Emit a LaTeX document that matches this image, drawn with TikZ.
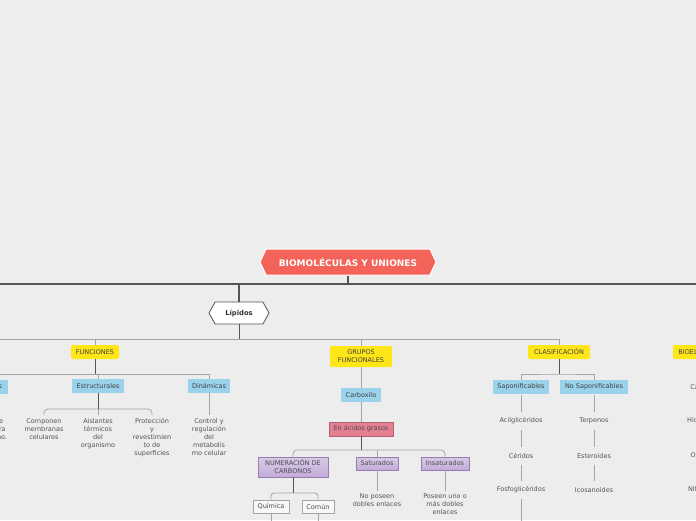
\documentclass[tikz,border=0pt]{standalone}
\usepackage{fontspec}
\setmainfont{DejaVu Sans}
\usetikzlibrary{positioning, shapes.symbols, calc}
\definecolor{bggray}{RGB}{237,237,237}
\definecolor{titred}{RGB}{244,99,90}
\definecolor{catyel}{RGB}{255,230,25}
\definecolor{subblue}{RGB}{155,210,235}
\definecolor{acidred}{RGB}{228,128,145}
\definecolor{acidedge}{RGB}{180,95,110}
\definecolor{numpurp}{RGB}{196,172,218}
\definecolor{numedge}{RGB}{150,125,175}
\definecolor{linegray}{RGB}{85,85,85}
\definecolor{txtgray}{RGB}{85,85,85}
\definecolor{linklight}{RGB}{165,165,165}

\tikzset{
  titlebox/.style={shape=signal, signal to=east and west, signal pointer angle=130,
    fill=titred, draw=white, line width=1pt, text=white, inner sep=0pt,
    font=\fontsize{9}{11}\selectfont\bfseries, minimum width=176pt, minimum height=26pt},
  lipbox/.style={shape=signal, signal to=east and west, signal pointer angle=122,
    fill=white, draw=linegray, line width=0.8pt, text=black!80, inner sep=0pt,
    font=\fontsize{6.8}{8}\selectfont\bfseries, minimum width=60pt, minimum height=22pt},
  catbox/.style={rectangle, rounded corners=2pt, fill=catyel, text=black!75, inner sep=0pt,
    align=center, font=\fontsize{6.5}{8}\selectfont, minimum height=14pt},
  subbox/.style={rectangle, fill=subblue, text=black!75, inner sep=0pt,
    font=\fontsize{6.5}{8}\selectfont, minimum height=14pt},
  acidbox/.style={rectangle, fill=acidred, draw=acidedge, line width=0.6pt, text=black!70,
    inner sep=0pt, font=\fontsize{6.5}{8}\selectfont, minimum height=14pt},
  purpbox/.style={rectangle, top color=numpurp!65, bottom color=numpurp, draw=numedge,
    line width=0.6pt, text=black!70, inner sep=0pt, align=center,
    font=\fontsize{6.5}{8}\selectfont, minimum height=13pt},
  whitebox/.style={rectangle, fill=bggray!40, draw=linklight, line width=0.6pt, text=black!70,
    inner sep=0pt, font=\fontsize{6.5}{8}\selectfont, minimum height=13pt},
  leaf/.style={text=txtgray, inner sep=3pt, align=center, font=\fontsize{6.5}{8}\selectfont},
  mainline/.style={draw=linegray, line width=1.3pt},
  link/.style={draw=linklight, line width=0.8pt},
  darklink/.style={draw=linegray, line width=0.8pt},
}

\begin{document}
\begin{tikzpicture}[x=1pt, y=-1pt]
\fill[bggray] (0,0) rectangle (696,520);
\clip (0,0) rectangle (696,520);

% Root and first level
\node[titlebox] (root) at (348,262) {BIOMOLÉCULAS Y UNIONES};
\node[lipbox] (lip) at (239,313) {Lípidos};
\node[catbox, minimum width=62pt] (bio) at (704,352) {BIOELEMENTOS};

\coordinate (rbusL) at (-10,284);
\coordinate (rbusR) at (706,284);
\draw[mainline] (rbusL) -- (rbusR);
\draw[mainline] (root.south) -- (root.south |- rbusL);
\draw[mainline] (lip.north) -- (lip.north |- rbusL);

% Lipidos branches
\node[catbox, minimum width=48pt] (fun) at (95,352) {FUNCIONES};
\node[catbox, minimum width=62pt, minimum height=21pt] (grp) at (361,356.5) {GRUPOS\\FUNCIONALES};
\node[catbox, minimum width=62pt] (cla) at (559,352) {CLASIFICACIÓN};

\coordinate (lbusL) at (-10,339);
\draw[link] (lbusL) -| (cla.north);
\draw[darklink] (lip.south) -- (lip.south |- lbusL);
\draw[link] (fun.north) -- (fun.north |- lbusL);
\draw[link] (grp.north) -- (grp.north |- lbusL);

% Funciones
\node[subbox, minimum width=50pt] (ene) at (-17,387) {Energéticas};
\node[subbox, minimum width=52pt] (est) at (98,386) {Estructurales};
\node[subbox, minimum width=42pt] (din) at (209,386) {Dinámicas};

\coordinate (fbusL) at (-20,374);
\draw[link] (fbusL) -| (din.north);
\draw[darklink] (fun.south) -- (fun.south |- fbusL);
\draw[link] (est.north) -- (est.north |- fbusL);
\draw[link] (ene.north) -- (ene.north |- fbusL);

\node[leaf, anchor=north] (ene1) at (-15,415) {Reserva de\\energía para\\el organismo.};
\node[leaf, anchor=north] (est1) at (44,415) {Componen\\membranas\\celulares};
\node[leaf, anchor=north] (est2) at (98,415) {Aislantes\\térmicos\\del\\organismo};
\node[leaf, anchor=north] (est3) at (152,415) {Protección\\y\\revestimien\\to de\\superficies};
\node[leaf, anchor=north] (din1) at (209,415) {Control y\\regulación\\del\\metabolis\\mo celular};

\draw[link, rounded corners=4pt] (est1.north) |- (est.south |- 0,409) -| (est3.north);
\draw[darklink] (est.south) -- (est.south |- 0,409);
\draw[link] (est.south |- 0,409) -- (est2.north);
\draw[link] (din.south) -- (din1.north);

% Grupos funcionales
\node[subbox, minimum width=40pt] (car) at (361,395) {Carboxilo};
\node[acidbox, minimum width=64pt] (acd) at (361,429) {En ácidos grasos};
\node[purpbox, minimum width=70pt, minimum height=20pt] (num) at (293,467) {NUMERACIÓN DE\\CARBONOS};
\node[purpbox, minimum width=42pt] (sat) at (377,463.5) {Saturados};
\node[purpbox, minimum width=48pt] (ins) at (445,463.5) {Insaturados};

\draw[link] (grp.south) -- (car.north);
\draw[link] (car.south) -- (acd.north);
\draw[darklink] (acd.south) -- (acd.south |- 0,450);
\draw[link, rounded corners=4pt] (num.north) |- (acd.south |- 0,450) -| (ins.north);
\draw[link] (sat.north) -- (sat.north |- 0,450);

\node[whitebox, minimum width=36pt] (qui) at (271,506.5) {Química};
\node[whitebox, minimum width=32pt] (com) at (318,506.5) {Común};
\draw[darklink] (num.south) -- (num.south |- 0,493);
\draw[link, rounded corners=3pt] (qui.north) |- (num.south |- 0,493) -| (com.north);
\draw[link] (qui.south) -- ++(0,12);
\draw[link] (com.south) -- ++(0,12);

\node[leaf, anchor=north] (sat1) at (377,491) {No poseen\\dobles enlaces};
\node[leaf, anchor=north] (ins1) at (445,491) {Poseen uno o\\más dobles\\enlaces};
\draw[link] (sat.south) -- (sat1.north);
\draw[link] (ins.south) -- (ins1.north);

% Clasificacion
\node[subbox, minimum width=56pt] (sap) at (521,387) {Saponificables};
\node[subbox, minimum width=68pt] (nsap) at (594,387) {No Saponificables};
\draw[darklink] (cla.south) -- (cla.south |- 0,374);
\draw[link] (sap.north) |- (cla.south |- 0,374) -| (nsap.north);

\node[leaf] (acil) at (521,421) {Acilglicéridos};
\node[leaf] (cer) at (521,456) {Céridos};
\node[leaf] (fos) at (521,490) {Fosfoglicéridos};
\node[leaf] (ter) at (594,421) {Terpenos};
\node[leaf] (este) at (594,456) {Esteroides};
\node[leaf] (ico) at (594,490) {Icosanoides};

\draw[link, shorten <=1pt, shorten >=3pt] (sap.south) -- (acil.north);
\draw[link, shorten <=3pt, shorten >=3pt] (acil.south) -- (cer.north);
\draw[link, shorten <=3pt, shorten >=3pt] (cer.south) -- (fos.north);
\draw[link, shorten <=3pt] (fos.south) -- ++(0,25);
\draw[link, shorten <=1pt, shorten >=3pt] (nsap.south) -- (ter.north);
\draw[link, shorten <=3pt, shorten >=3pt] (ter.south) -- (este.north);
\draw[link, shorten <=3pt, shorten >=3pt] (este.south) -- (ico.north);

% Bioelementos (cut at the right edge)
\node[leaf] (carb) at (704,387) {Carbono};
\node[leaf] (hid) at (704,421) {Hidrógeno};
\node[leaf] (oxi) at (704,456) {Oxígeno};
\node[leaf] (nit) at (704,490) {Nitrógeno};

\end{tikzpicture}
\end{document}
